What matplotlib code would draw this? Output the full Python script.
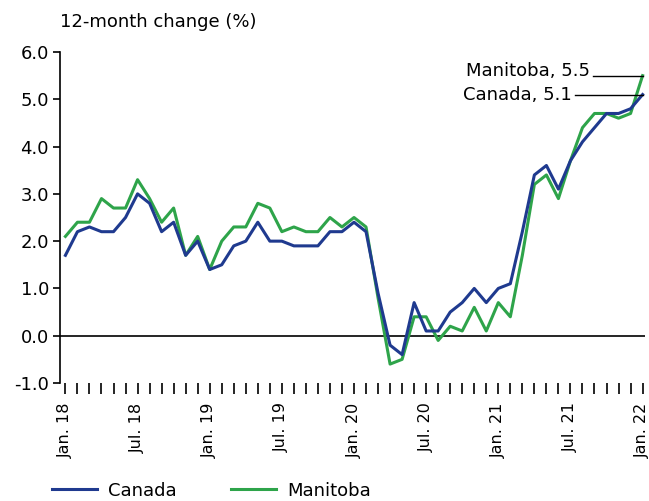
import numpy as np
import matplotlib.pyplot as plt

months = ['Jan. 18', 'Jul. 18', 'Jan. 19', 'Jul. 19', 'Jan. 20',
          'Jul. 20', 'Jan. 21', 'Jul. 21', 'Jan. 22']

canada = [1.7, 2.2, 2.3, 2.2, 2.2, 2.5, 3.0, 2.8, 2.2, 2.4, 1.7, 2.0,
          1.4, 1.5, 1.9, 2.0, 2.4, 2.0, 2.0, 1.9, 1.9, 1.9, 2.2, 2.2,
          2.4, 2.2, 0.9, -0.2, -0.4, 0.7, 0.1, 0.1, 0.5, 0.7, 1.0, 0.7,
          1.0, 1.1, 2.2, 3.4, 3.6, 3.1, 3.7, 4.1, 4.4, 4.7, 4.7, 4.8,
          5.1]
manitoba = [2.1, 2.4, 2.4, 2.9, 2.7, 2.7, 3.3, 2.9, 2.4, 2.7, 1.7, 2.1,
            1.4, 2.0, 2.3, 2.3, 2.8, 2.7, 2.2, 2.3, 2.2, 2.2, 2.5, 2.3,
            2.5, 2.3, 0.8, -0.6, -0.5, 0.4, 0.4, -0.1, 0.2, 0.1, 0.6, 0.1,
            0.7, 0.4, 1.7, 3.2, 3.4, 2.9, 3.7, 4.4, 4.7, 4.7, 4.6, 4.7,
            5.5]

plt.rcParams['font.family'] = ['DejaVu Sans']
blue = '#1f3a8f'
green = '#2ea44a'

fig = plt.figure(figsize=(6.49, 5.01), dpi=100)
ax = fig.add_axes([60 / 649, 1 - 383 / 501, 585 / 649, 331 / 501])

x = np.arange(len(canada))
ax.plot(x, canada, color=blue, lw=2.2, label='Canada', zorder=3)
ax.plot(x, manitoba, color=green, lw=2.2, label='Manitoba', zorder=2)
ax.axhline(0, color='black', lw=1.2, zorder=1)

ax.set_ylim(-1, 6)
ax.set_xlim(-0.45, 48.2)
yt = np.arange(-1, 6.1, 1)
ax.set_yticks(yt)
ax.set_yticklabels([f'{v:.1f}' for v in yt], fontsize=13)
ax.set_xticks(x, minor=True)
ax.set_xticks(x[::6])
ax.set_xticklabels(months, rotation=90, fontsize=11.5)

for s in ['top', 'right', 'bottom']:
    ax.spines[s].set_visible(False)
ax.spines['left'].set_linewidth(1.2)
ax.tick_params(axis='y', length=5, width=1.2, pad=3)
ax.tick_params(axis='x', which='both', length=8, width=1.2, direction='out',
               pad=6)

fig.text(60 / 649, 1 - 22 / 501, '12-month change (%)', fontsize=13,
         va='center', ha='left')

# end labels with horizontal leader lines
ax.plot([43.9, 48], [manitoba[-1]] * 2, color='black', lw=1, zorder=4)
ax.text(43.6, manitoba[-1] + 0.1, 'Manitoba, 5.5', ha='right', va='center',
        fontsize=13)
ax.plot([42.4, 48], [canada[-1]] * 2, color='black', lw=1, zorder=4)
ax.text(42.1, canada[-1], 'Canada, 5.1', ha='right', va='center',
        fontsize=13)

fig.legend(loc='lower left', bbox_to_anchor=(36 / 649, -0.03), ncol=2,
           frameon=False, fontsize=13, handlelength=2.5, columnspacing=3.0,
           handletextpad=0.6)

fig.savefig('out.png')
